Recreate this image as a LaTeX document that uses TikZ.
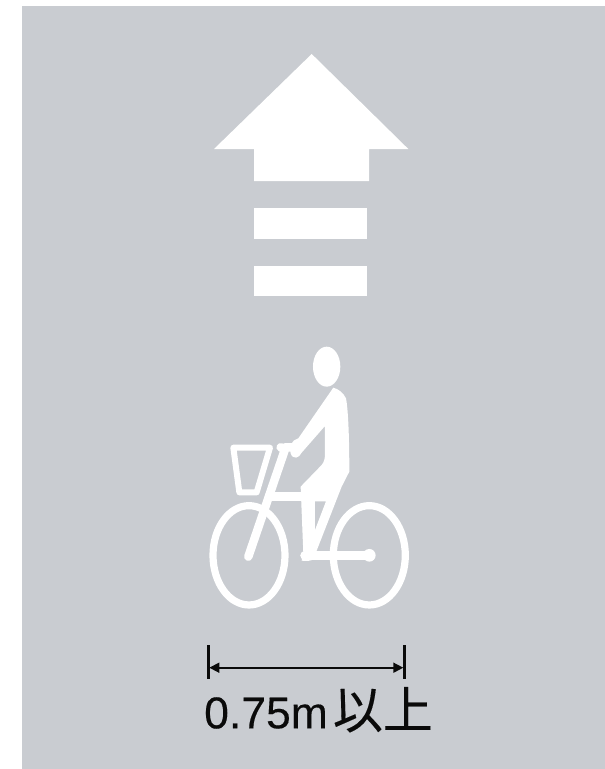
\documentclass[tikz,border=0pt]{standalone}
\usepackage{fontspec}
\setmainfont[FakeBold=0.25]{Liberation Sans}
\newfontfamily\cjk[FakeBold=0.25]{Noto Sans CJK JP}
\usetikzlibrary{arrows.meta}
\definecolor{road}{HTML}{C9CCD1}
\definecolor{ink}{HTML}{0A0A0A}
\tikzset{
  mark fill/.style={fill=white,draw=none},
  frame line/.style={draw=white,line cap=round,line join=round,fill=none},
  dim bar/.style={draw=ink,line width=2.4pt},
  dim line/.style={draw=ink,line width=1.6pt,{Triangle[length=10pt,width=10pt]}-{Triangle[length=10pt,width=10pt]},shorten >=1pt,shorten <=1pt},
}
\begin{document}
\begin{tikzpicture}[x=1pt,y=-1pt]
\useasboundingbox (0,0) rectangle (605,769);
\fill[road] (22,6) rectangle (605,769);
% arrow
\path[mark fill] (311.7,54) -- (408.3,149) -- (369,149) -- (369,181) -- (254,181) -- (254,149) -- (214,149) -- cycle;
\path[mark fill] (254,207.7) rectangle (367.3,238.7);
\path[mark fill] (254,265.7) rectangle (367.3,295.7);
% coordinates in zoom units
\begin{scope}[shift={(190,340)},x=0.3333pt,y=-0.3333pt]
  % wheels
  \draw[frame line,line width=7.2pt] (177,646) ellipse [x radius=108,y radius=149];
  \draw[frame line,line width=7.2pt] (538,646) ellipse [x radius=108,y radius=149];
  % basket
  \draw[frame line,line width=6pt] (130,323) -- (240,323) -- (200,457) -- (148,457) -- cycle;
  % frame
  \draw[frame line,line width=8.5pt] (175,650) -- (285,328) -- (272,322) (285,322) -- (305,322);
  \draw[frame line,line width=9pt,line cap=butt] (228,471) -- (345,471);
  \draw[frame line,line width=9.5pt] (345,646) -- (535,646);
  \fill[white] (538,646) circle [x radius=19,y radius=19];
  % rider
  \fill[white] (410,80) ellipse [x radius=41,y radius=60];
  \fill[white,even odd rule]
    (430,143) .. controls (445,147) and (460,158) .. (468,175)
    .. controls (475,210) and (478,300) .. (478,395)
    -- (455,440) -- (380,632) -- (376,655) .. controls (365,664) and (345,664) .. (335,662)
    -- (340,640) -- (332,440)
    -- (395,375) .. controls (403,365) and (405,355) .. (405,340)
    -- (405,258) -- (335,338)
    .. controls (328,355) and (308,360) .. (302,340)
    .. controls (295,320) and (305,300) .. (325,295)
    -- cycle
    (375,484) -- (408,484) -- (375,570) -- cycle;
\end{scope}
% dimension
\coordinate (lt) at (208.3,645);
\coordinate (lb) at (208.3,679.3);
\coordinate (rt) at (404.3,645);
\coordinate (rb) at (404.3,679.3);
\coordinate (la) at (208.3,667.7);
\coordinate (ra) at (404.3,667.7);
\draw[dim bar] (lt) -- (lb);
\draw[dim bar] (rt) -- (rb);
\draw[dim line] (la) -- (ra);
\node[anchor=base west,inner sep=0pt,text=ink,font=\fontsize{44.5pt}{44pt}\selectfont] (lab) at (204,728.3) {0.75m\hspace{5pt}{\cjk\fontsize{50pt}{50pt}\selectfont 以上}};
\end{tikzpicture}
\end{document}
